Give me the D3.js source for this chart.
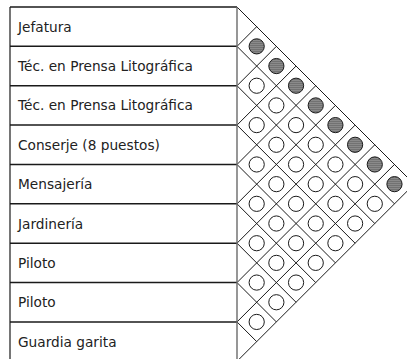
<!DOCTYPE html>
<html><head><meta charset="utf-8">
<script src="https://cdn.jsdelivr.net/npm/d3@7"></script>
<style>body{margin:0;background:#fff;overflow:hidden}svg{display:block}</style>
</head><body>
<script>
const labels = ["Jefatura","Téc. en Prensa Litográfica","Téc. en Prensa Litográfica","Conserje (8 puestos)","Mensajería","Jardinería","Piloto","Piloto","Guardia garita"];
// relation type for each pair (i, j>i): 1 = filled (gray), 0 = empty
const relations = [
  [1,1,1,1,1,1,1,1],
  [0,0,0,0,0,0,0],
  [0,0,0,0,0,0],
  [0,0,0,0,0],
  [0,0,0,0],
  [0,0,0],
  [0,0],
  [0]
];

(function(){
const W = 407, H = 359;
const svg = d3.select("body").append("svg").attr("width", W).attr("height", H);
const defs = svg.append("defs");
const pat = defs.append("pattern").attr("id","stripe").attr("patternUnits","userSpaceOnUse").attr("width",4).attr("height",2);
pat.append("rect").attr("width",4).attr("height",2).attr("fill","#727272");
pat.append("rect").attr("width",4).attr("height",1).attr("fill","#8a8a8a");

const x0 = 10, y0 = 7, xm = 237, y1 = 361.3;
const n = labels.length;
const y = d3.scaleBand().domain(d3.range(n)).range([y0, y1]);
const h = y.bandwidth();
const x = d3.scaleLinear().domain([0, n]).range([xm, xm + n * h / 2]);
const b = i => y0 + i * h; // boundary

const g = svg.append("g");
for (let k = 0; k <= n; k++) {
  g.append("line").attr("x1", x0).attr("x2", xm).attr("y1", b(k)).attr("y2", b(k))
    .attr("stroke", "#1a1a1a").attr("stroke-width", 1.5);
}
g.append("line").attr("x1", x0).attr("x2", x0).attr("y1", y0).attr("y2", y1).attr("stroke","#1a1a1a").attr("stroke-width",1.2);

g.selectAll("text.lab").data(labels).join("text")
  .attr("x", 18).attr("y", (d,i) => y(i) + h/2 + 5)
  .attr("font-family", "'DejaVu Sans', sans-serif").attr("font-size", 13.7)
  .attr("fill", "#222").text(d => d);

const m = svg.append("g").attr("stroke", "#1a1a1a").attr("stroke-width", 1).attr("fill","none");
for (let k = 0; k <= n; k++) {
  const tdown = (b(n) - b(k)) / 2, tup = (b(k) - b(0)) / 2;
  m.append("line").attr("x1", xm).attr("y1", b(k)).attr("x2", xm + tdown).attr("y2", b(k) + tdown);
  m.append("line").attr("x1", xm).attr("y1", b(k)).attr("x2", xm + tup).attr("y2", b(k) - tup);
}
svg.append("line").attr("x1", xm).attr("x2", xm).attr("y1", y0).attr("y2", y1).attr("stroke","#6a6a6a").attr("stroke-width",1.4);

const cells = [];
relations.forEach((row, i) => row.forEach((v, k) => {
  const j = i + 1 + k;
  cells.push({i, j, v});
}));
svg.append("g").selectAll("circle").data(cells).join("circle")
  .attr("cx", d => x(d.j - d.i))
  .attr("cy", d => (y(d.i) + y(d.j)) / 2 + h / 2)
  .attr("r", 7.6)
  .attr("fill", d => d.v ? "url(#stripe)" : "#fff")
  .attr("stroke", "#1a1a1a").attr("stroke-width", 1);
})();
</script>
</body></html>
